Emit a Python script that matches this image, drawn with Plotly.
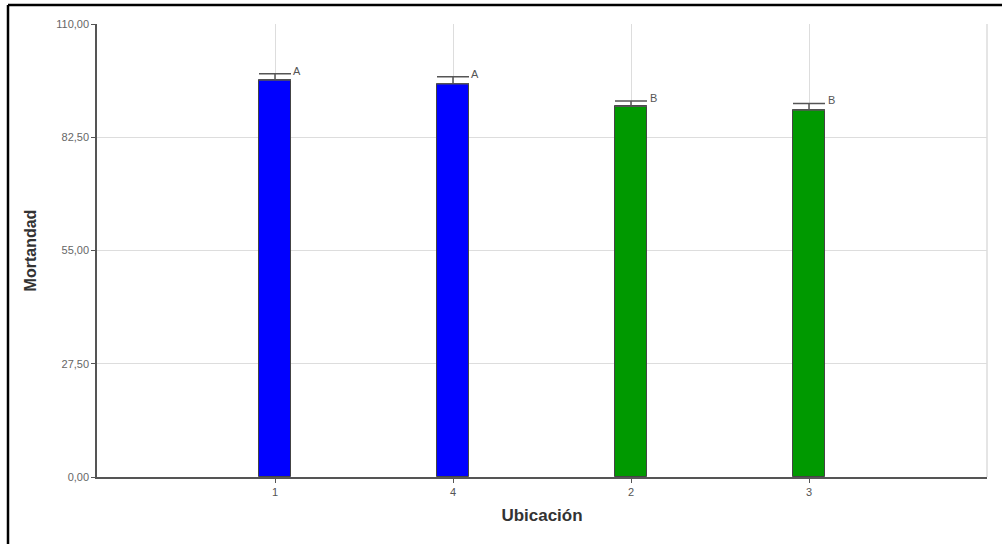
import plotly.graph_objects as go

categories = ["1", "4", "2", "3"]
means = [96.4, 95.5, 90.0, 89.1]
err_up = [1.5, 1.7, 1.3, 1.6]
letters = ["A", "A", "B", "B"]
bar_colors = ["#0000FF", "#0000FF", "#009900", "#009900"]
y_ticks = [0, 27.5, 55, 82.5, 110]
y_tick_labels = ["0,00", "27,50", "55,00", "82,50", "110,00"]

fig = go.Figure()
fig.add_trace(go.Bar(
    x=categories, y=means,
    width=0.18,
    marker=dict(color=bar_colors, line=dict(color="#444444", width=1)),
    error_y=dict(type="data", array=err_up, arrayminus=[0]*len(err_up), symmetric=False,
                 color="#555555", thickness=1.5, width=16),
    showlegend=False,
))

for i, (m, e, l) in enumerate(zip(means, err_up, letters)):
    fig.add_annotation(x=i, y=m + e, text=l, showarrow=False, xshift=22, yshift=3,
                       font=dict(family="Liberation Sans, Arial", size=11, color="#555555"))

# light right border of plot area
fig.add_shape(type="line", xref="paper", yref="paper", x0=1, x1=1, y0=0, y1=1,
              line=dict(color="#dddddd", width=1.5), layer="below")
# document frame (left and top black lines)
fig.add_shape(type="line", xref="paper", yref="paper", x0=-0.1, x1=-0.1, y0=-0.16, y1=1.0419,
              line=dict(color="black", width=2.5))
fig.add_shape(type="line", xref="paper", yref="paper", x0=-0.1, x1=1.03, y0=1.0419, y1=1.0419,
              line=dict(color="black", width=2.5))

fig.update_layout(
    width=1002, height=544,
    margin=dict(l=97, r=15, t=24, b=67),
    paper_bgcolor="white", plot_bgcolor="white",
    font=dict(family="Liberation Sans, Arial", color="#555555"),
    bargap=0,
    xaxis=dict(
        type="category", range=[-1, 4],
        showgrid=True, gridcolor="#dddddd", gridwidth=1,
        showline=True, linecolor="#555555", linewidth=1.5,
        ticks="outside", ticklen=4, tickcolor="#555555",
        tickfont=dict(size=11, color="#555555"),
        title=dict(text="<b>Ubicación</b>", font=dict(size=17, color="#333333"), standoff=12),
        zeroline=False,
    ),
    yaxis=dict(
        range=[0, 110], tickvals=y_ticks, ticktext=y_tick_labels,
        showgrid=True, gridcolor="#dddddd", gridwidth=1,
        showline=True, linecolor="#555555", linewidth=1.5,
        ticks="outside", ticklen=4, tickcolor="#555555",
        tickfont=dict(size=11, color="#666666"),
        title=dict(text="<b>Mortandad</b>", font=dict(size=16, color="#333333"), standoff=16),
        zeroline=False,
    ),
)

fig.write_html("out.html")
